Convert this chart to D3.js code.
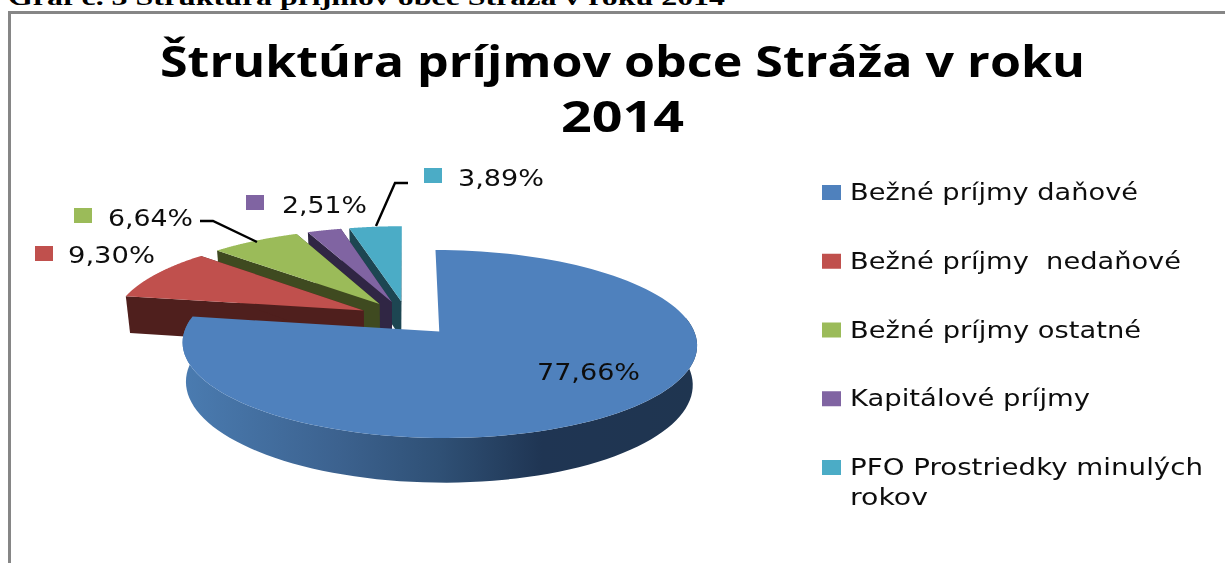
<!DOCTYPE html>
<html><head><meta charset="utf-8">
<script src="https://cdn.jsdelivr.net/npm/d3@7"></script>
<style>
html,body{margin:0;padding:0;background:#fff;overflow:hidden}
svg{display:block}
text{white-space:pre}
</style></head><body>
<svg id="c" width="1225" height="563"></svg>
<script>
const categories = ["Bežné príjmy daňové","Bežné príjmy  nedaňové","Bežné príjmy ostatné","Kapitálové príjmy","PFO Prostriedky minulých rokov"];
const values = [77.66, 9.30, 6.64, 2.51, 3.89];
const valueLabels = ["77,66%","9,30%","6,64%","2,51%","3,89%"];
const topColors = ["#4f81bd","#c0504d","#9bbb59","#8064a2","#4bacc6"];
const wallColors = ["#1f3550","#4f1f1d","#3f4a20","#302644","#1d4652"];
const titleLines = ["Štruktúra príjmov obce Stráža v roku","2014"];
const captionText = "Graf č. 3 Štruktúra príjmov obce Stráža v roku 2014";

const svg = d3.select("#c");
const defs = svg.append("defs");
defs.append("filter").attr("id","soft").attr("x","-5%").attr("y","-20%").attr("width","110%").attr("height","140%")
  .append("feGaussianBlur").attr("stdDeviation",0.45);
const g = defs.append("linearGradient").attr("id","rim").attr("gradientUnits","userSpaceOnUse")
  .attr("x1",185).attr("x2",695).attr("y1",0).attr("y2",0);
[[0,"#4a7bb0"],[0.3,"#3c628f"],[0.5,"#2f5075"],[0.7,"#1f3553"],[1,"#1f3550"]].forEach(s=>g.append("stop").attr("offset",s[0]).attr("stop-color",s[1]));

// frame: the right edge runs out of the picture
svg.append("rect").attr("x",9.5).attr("y",12.5).attr("width",1240).attr("height",600)
  .attr("fill","#fff").attr("stroke","#868686").attr("stroke-width",3);

// caption
svg.append("text").attr("x",8).attr("y",5).attr("font-family","Liberation Serif").attr("font-weight",700)
  .attr("font-size",24).attr("fill","#000").attr("textLength",717).attr("lengthAdjust","spacingAndGlyphs").text(captionText);

// title
const titleG = svg.append("g").attr("filter","url(#soft)").attr("font-family","Open Sans").attr("font-weight",700).attr("fill","#000").attr("text-anchor","middle");
const titleX = 622.5, titleWidths=[925,123];
titleLines.forEach((t,i)=>titleG.append("text").attr("x",titleX).attr("y",77+i*55).attr("font-size",43)
  .attr("textLength",titleWidths[i]).attr("lengthAdjust","spacingAndGlyphs").text(t));

// pie geometry: d3.pie angles projected to a tilted plane
const cx=407, cy=318, R=250, E=49, tilt=0.355, persp=0.13, depth=38, narrow=0.985;
const pie = d3.pie().sort(null).value(d=>d);
const arcs = pie(values);
const rScale = d3.scaleLinear().domain([0,1]).range([0,R]);
function project(theta, r, mid, low){
  const u = rScale(r)*Math.sin(theta) + E*Math.sin(mid);
  const v = -(rScale(r)*Math.cos(theta) + E*Math.cos(mid));
  const s = 1/(1-persp*v/R);
  const x = cx + u*s*(low?narrow:1);
  const y = cy + v*tilt*s + (low?depth*s:0);
  return [x,y];
}
const line = d3.line().curve(d3.curveLinear);
const chart = svg.append("g");
// paint from the back slice to the front slice
[4,3,2,1,0].forEach(i=>{
  const a = arcs[i], mid=(a.startAngle+a.endAngle)/2;
  const angs = d3.range(0,121).map(k=>a.startAngle+(a.endAngle-a.startAngle)*k/120);
  const rim = angs.map(t=>project(t,1,mid,false));
  const front = angs.filter(t=>Math.cos(t)<0.15);
  const wall = i===0 ? "url(#rim)" : wallColors[i];
  const apex = project(0,0,mid,false), apexLow = project(0,0,mid,true);
  if(front.length){
    const upper = front.map(t=>project(t,1,mid,false)), lower = front.map(t=>project(t,1,mid,true));
    chart.append("path").attr("d",line(upper.concat(lower.reverse()))+"Z").attr("fill",wall);
  }
  if(i>0){
    [angs[0],angs[120]].forEach(t=>{
      chart.append("path").attr("d",line([apex,project(t,1,mid,false),project(t,1,mid,true),apexLow])+"Z").attr("fill",wall);
    });
  }
  chart.append("path").attr("d",line([apex].concat(rim))+"Z").attr("fill",topColors[i]);
});

// leader lines
const leaders=[[[200,221],[213,221],[257,242]],[[408,183],[395,183],[376,226]]];
chart.selectAll("path.leader").data(leaders).enter().append("path").attr("class","leader")
  .attr("d",d=>line(d)).attr("fill","none").attr("stroke","#000").attr("stroke-width",2.4);

// data labels
const labelLayout=[
  {x:537,y:380,w:103,sx:null,sy:null},
  {x:68,y:263,w:87,sx:35,sy:246},
  {x:108,y:226,w:85,sx:74,sy:208},
  {x:282,y:213,w:85,sx:246,sy:195},
  {x:458,y:186,w:86,sx:424,sy:168}
];
const labelG = svg.append("g").attr("filter","url(#soft)").attr("font-family","DejaVu Sans").attr("font-size",23).attr("fill","#111");
valueLabels.forEach((t,i)=>{
  const p=labelLayout[i];
  if(p.sx!==null) svg.append("rect").attr("x",p.sx).attr("y",p.sy).attr("width",18).attr("height",15).attr("fill",topColors[i]);
  labelG.append("text").attr("x",p.x).attr("y",p.y).attr("textLength",p.w).attr("lengthAdjust","spacingAndGlyphs").text(t);
});

// legend
const legendY = d3.scalePoint().domain(categories).range([200,475]);
const legendWidths=[288,331,291,240,353];
const legG = svg.append("g").attr("filter","url(#soft)").attr("font-family","DejaVu Sans").attr("font-size",23).attr("fill","#111");
categories.forEach((c,i)=>{
  const y=legendY(c);
  svg.append("rect").attr("x",822).attr("y",y-15).attr("width",19).attr("height",15).attr("fill",topColors[i]);
  if(i<4){
    legG.append("text").attr("x",850).attr("y",y).attr("textLength",legendWidths[i]).attr("lengthAdjust","spacingAndGlyphs").text(c);
  } else {
    const parts=["PFO Prostriedky minulých","rokov"];
    legG.append("text").attr("x",850).attr("y",y).attr("textLength",353).attr("lengthAdjust","spacingAndGlyphs").text(parts[0]);
    legG.append("text").attr("x",850).attr("y",y+30).attr("textLength",78).attr("lengthAdjust","spacingAndGlyphs").text(parts[1]);
  }
});
</script></body></html>
